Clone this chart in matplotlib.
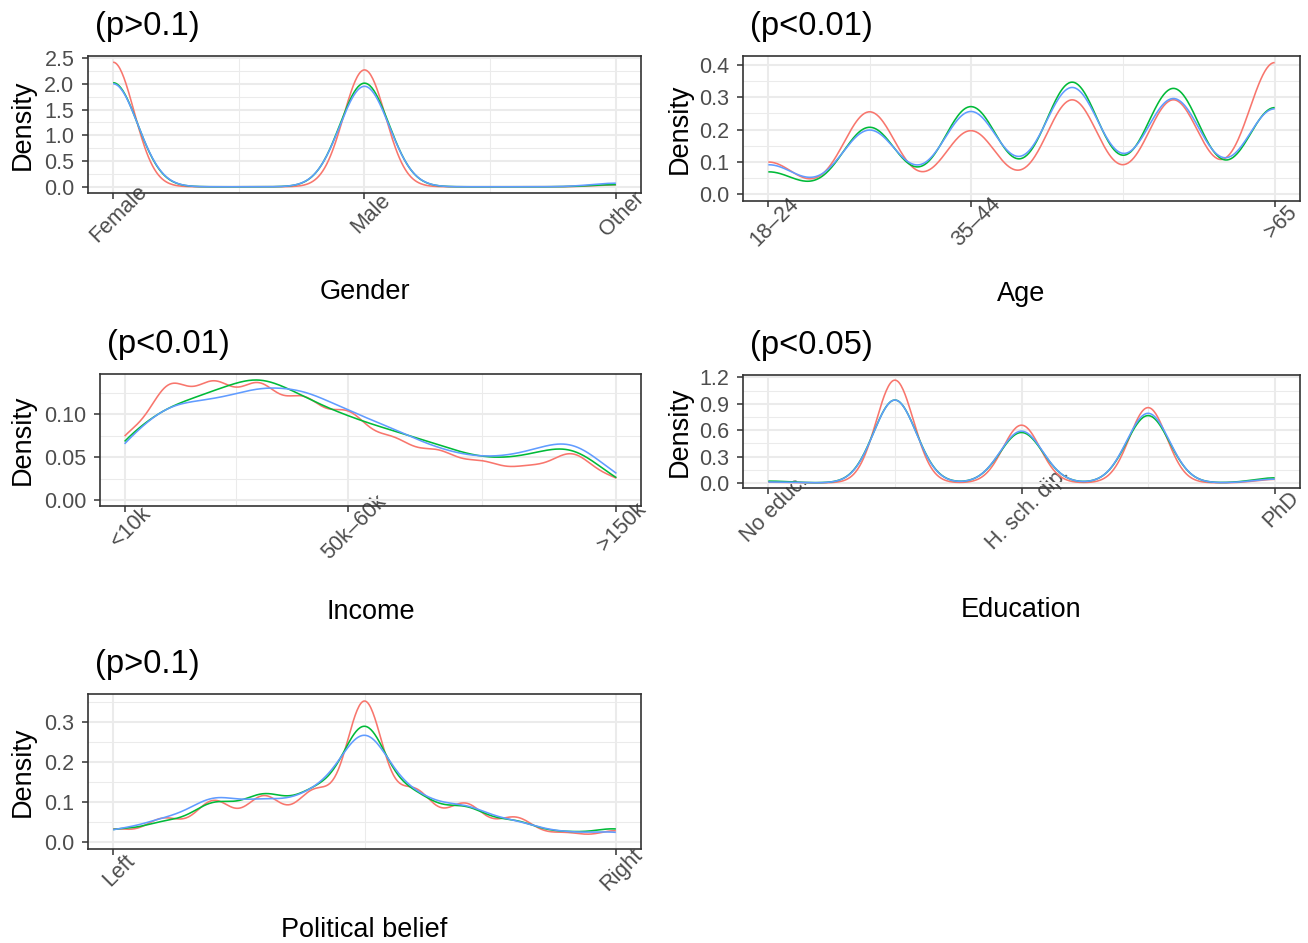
import numpy as np
import matplotlib
matplotlib.use("Agg")
import matplotlib.pyplot as plt
from matplotlib.transforms import ScaledTranslation
from matplotlib.ticker import FixedLocator, FormatStrFormatter

plt.rcParams['font.family'] = ['Liberation Sans', 'DejaVu Sans']

W, H, DPI = 1308, 943, 100
GROUP_COLORS = ['#F8766D', '#00BA38', '#619CFF']

# ---- Gender (1 = Female, 2 = Male, 3 = Other) ----
gender_pos = [1, 2, 3]
gender_ticks = [1, 2, 3]
gender_labels = ['Female', 'Male', 'Other']
gender_share_a = [0.503, 0.472, 0.008]
gender_share_b = [0.491, 0.489, 0.010]
gender_share_c = [0.491, 0.479, 0.017]
gender_bw = [0.083, 0.097, 0.098]

# ---- Age (6 brackets) ----
age_pos = [1, 2, 3, 4, 5, 6]
age_ticks = [1, 3, 6]
age_labels = ['18–24', '35–44', '>65']
age_share_a = [0.065, 0.166, 0.128, 0.190, 0.190, 0.265]
age_share_b = [0.047, 0.140, 0.183, 0.234, 0.221, 0.181]
age_share_c = [0.064, 0.139, 0.179, 0.231, 0.207, 0.185]
age_bw = [0.26, 0.27, 0.28]

# ---- Income (12 brackets) ----
income_pos = list(range(1, 13))
income_ticks = [1, 6, 12]
income_labels = ['<10k', '50k–60k', '>150k']
income_share_a = [0.0735, 0.1373, 0.1357, 0.1351, 0.118, 0.1028,
                  0.0706, 0.0573, 0.0442, 0.0371, 0.0572, 0.0241]
income_share_b = [0.076, 0.112, 0.126, 0.151, 0.120, 0.097,
                  0.081, 0.065, 0.047, 0.050, 0.072, 0.020]
income_share_c = [0.070, 0.117, 0.115, 0.134, 0.131, 0.104,
                  0.084, 0.059, 0.048, 0.054, 0.079, 0.026]
income_bw = [0.47, 0.65, 0.65]

# ---- Education (5 levels) ----
edu_pos = [1, 2, 3, 4, 5]
edu_ticks = [1, 3, 5]
edu_labels = ['No educ.', 'H. sch. dip.', 'PhD']
edu_share_a = [0.003, 0.4296, 0.2412, 0.3147, 0.0147]
edu_share_b = [0.0085, 0.3995, 0.2431, 0.3245, 0.0241]
edu_share_c = [0.0042, 0.3971, 0.248, 0.3335, 0.0177]
edu_bw = [0.1465, 0.169, 0.168]

# ---- Political belief (0 = Left ... 10 = Right) ----
pol_pos = list(range(0, 11))
pol_ticks = [0, 10]
pol_labels = ['Left', 'Right']
pol_share_a = [0.0288, 0.0525, 0.0925, 0.1023, 0.1124, 0.321,
               0.1147, 0.086, 0.0552, 0.0202, 0.0254]
pol_share_b = [0.0311, 0.048, 0.0979, 0.1177, 0.121, 0.3065,
               0.1129, 0.0866, 0.0515, 0.0229, 0.0347]
pol_share_c = [0.0306, 0.056, 0.1157, 0.1033, 0.1204, 0.3027,
               0.1129, 0.092, 0.0511, 0.023, 0.027]
pol_bw = [0.37, 0.45, 0.50]

p_labels = ['(p>0.1)', '(p<0.01)', '(p<0.01)', '(p<0.05)', '(p>0.1)']
x_titles = ['Gender', 'Age', 'Income', 'Education', 'Political belief']


def gaussian_density(grid, positions, shares, bw):
    pos = np.asarray(positions, float)
    w = np.asarray(shares, float)
    z = (grid[:, None] - pos[None, :]) / bw
    return (np.exp(-0.5 * z ** 2) * w).sum(axis=1) / (bw * np.sqrt(2 * np.pi))


fig = plt.figure(figsize=(W / DPI, H / DPI), dpi=DPI)
fig.patch.set_facecolor('white')


def px_axes(left, top, right, bottom):
    return fig.add_axes([left / W, 1 - bottom / H, (right - left) / W, (bottom - top) / H])


panels = [
    dict(box=(88, 56, 641, 193), pos=gender_pos, ticks=gender_ticks, labels=gender_labels,
         shares=[gender_share_a, gender_share_b, gender_share_c], bw=gender_bw,
         ymajor=[0, 0.5, 1.0, 1.5, 2.0, 2.5], fmt='%.1f', xt_base=299, ylab_x=23),
    dict(box=(743, 56, 1300, 201), pos=age_pos, ticks=age_ticks, labels=age_labels,
         shares=[age_share_a, age_share_b, age_share_c], bw=age_bw,
         ymajor=[0, 0.1, 0.2, 0.3, 0.4], fmt='%.1f', xt_base=301, ylab_x=680),
    dict(box=(100, 374, 641, 506), pos=income_pos, ticks=income_ticks, labels=income_labels,
         shares=[income_share_a, income_share_b, income_share_c], bw=income_bw,
         ymajor=[0, 0.05, 0.10], fmt='%.2f', xt_base=619, ylab_x=23),
    dict(box=(743, 375, 1300, 488), pos=edu_pos, ticks=edu_ticks, labels=edu_labels,
         shares=[edu_share_a, edu_share_b, edu_share_c], bw=edu_bw,
         ymajor=[0, 0.3, 0.6, 0.9, 1.2], fmt='%.1f', xt_base=617, ylab_x=680),
    dict(box=(88, 694, 641, 849), pos=pol_pos, ticks=pol_ticks, labels=pol_labels,
         shares=[pol_share_a, pol_share_b, pol_share_c], bw=pol_bw,
         ymajor=[0, 0.1, 0.2, 0.3], fmt='%.1f', xt_base=937, ylab_x=23),
]

GRID_C = '#EBEBEB'
AX_C = '#333333'
TXT_C = '#4D4D4D'

for i, p in enumerate(panels):
    left, top, right, bottom = p['box']
    ax = px_axes(left, top, right, bottom)
    lo, hi = min(p['pos']), max(p['pos'])
    grid = np.linspace(lo, hi, 512)
    ymax = 0.0
    for shares, bw, col in zip(p['shares'], p['bw'], GROUP_COLORS):
        d = gaussian_density(grid, p['pos'], shares, bw)
        ymax = max(ymax, d.max())
        ax.plot(grid, d, color=col, lw=1.15, zorder=3, solid_capstyle='butt')

    span = hi - lo
    ax.set_xlim(lo - 0.05 * span, hi + 0.05 * span)
    ax.set_ylim(-0.05 * ymax, ymax * 1.05)

    # x breaks and the midpoints between them
    ticks = p['ticks']
    xminor = [(a + b) / 2 for a, b in zip(ticks[:-1], ticks[1:])]
    ax.xaxis.set_major_locator(FixedLocator(ticks))
    ax.xaxis.set_minor_locator(FixedLocator(xminor))
    ax.set_xticklabels(p['labels'])

    ym = p['ymajor']
    step = ym[1] - ym[0]
    yminor = [v + step / 2 for v in ym]
    ax.yaxis.set_major_locator(FixedLocator(ym))
    ax.yaxis.set_minor_locator(FixedLocator(yminor))
    ax.yaxis.set_major_formatter(FormatStrFormatter(p['fmt']))

    ax.grid(True, which='major', color=GRID_C, lw=1.45, zorder=0)
    ax.grid(True, which='minor', color=GRID_C, lw=0.75, zorder=0)
    ax.set_axisbelow(True)

    for s in ax.spines.values():
        s.set_color(AX_C)
        s.set_linewidth(1.2)

    ax.tick_params(axis='both', which='major', direction='out', length=4.3,
                   width=1.1, color=AX_C, labelcolor=TXT_C, labelsize=15.5)
    ax.tick_params(axis='both', which='minor', length=0)
    ax.tick_params(axis='y', pad=5.5)
    ax.tick_params(axis='x', pad=10.8)

    shift = ScaledTranslation(6 / DPI, 0, fig.dpi_scale_trans)
    for lab in ax.get_xticklabels():
        lab.set_rotation(45)
        lab.set_rotation_mode('anchor')
        lab.set_ha('center')
        lab.set_va('center')
        lab.set_transform(lab.get_transform() + shift)

    # panel title, x title, y title
    fig.text((left + 7) / W, 1 - (top - 21) / H, p_labels[i], fontsize=23.5,
             ha='left', va='baseline', color='black')
    fig.text((left + right) / 2 / W, 1 - p['xt_base'] / H, x_titles[i], fontsize=19.5,
             ha='center', va='baseline', color='black')
    fig.text(p['ylab_x'] / W, 1 - (top + bottom) / 2 / H, 'Density', fontsize=19.5,
             rotation=90, ha='center', va='center', color='black')

fig.savefig('out.png', dpi=DPI, facecolor='white')
